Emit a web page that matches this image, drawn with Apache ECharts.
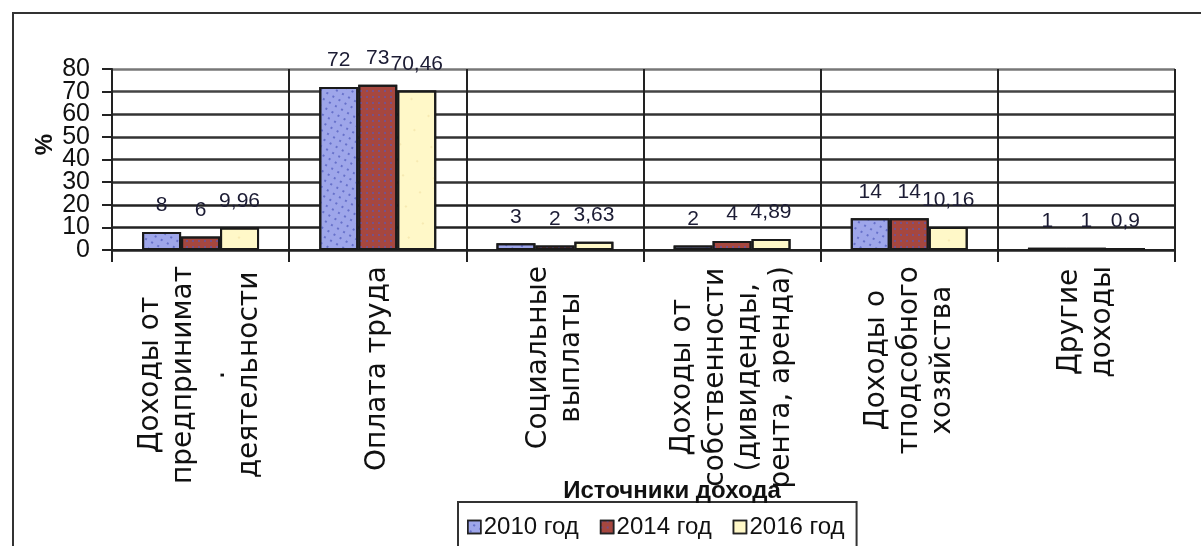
<!DOCTYPE html>
<html>
<head>
<meta charset="utf-8">
<script src="https://cdn.jsdelivr.net/npm/echarts@6/dist/echarts.min.js"></script>
<style>
  html, body { margin: 0; padding: 0; background: #fff; }
  #chart { width: 1201px; height: 546px; }
</style>
</head>
<body>
<div id="chart"></div>
<script>
// Income sources (wrapped the way the axis shows them)
const categories = [
  'Доходы от\nпредпринимат\n.\nдеятельности',
  'Оплата труда',
  'Социальные\nвыплаты',
  'Доходы от\nсобственности\n(дивиденды,\nрента, аренда)',
  'Доходы о\nтподсобного\nхозяйства',
  'Другие\nдоходы'
];
const seriesNames = ['2010 год', '2014 год', '2016 год'];
const values2010 = [8, 72, 3, 2, 14, 1];
const values2014 = [6, 73, 2, 4, 14, 1];
const values2016 = [9.96, 70.46, 3.63, 4.89, 10.16, 0.9];
const yTicks = [0, 10, 20, 30, 40, 50, 60, 70, 80];
const yMin = 0;
const yMax = 80;
const yStep = 10;

const TXT = '#111';
const LINE = '#222';
const FONT = 'Liberation Sans, Arial, sans-serif';

const chart = echarts.init(document.getElementById('chart'), null, { renderer: 'canvas' });

function valueLabel(p) {
  return String(p.value).replace('.', ',');
}

function barSeries(name, data, color, decal) {
  return {
    name: name,
    type: 'bar',
    data: data,
    barGap: '0%',
    barCategoryGap: '34%',
    itemStyle: { color: color, borderColor: '#1a1a1a', borderWidth: 2, decal: decal },
    label: {
      show: true,
      position: 'top',
      distance: 16,
      formatter: valueLabel,
      fontFamily: FONT,
      fontSize: 21,
      color: '#1c1c34'
    }
  };
}

// The y tick labels sit closer together than their glyph height, so the even
// and odd ones are carried by two overlaid axes sharing one scale.
const yLabelStyle = {
  margin: 22,
  fontFamily: FONT,
  fontSize: 25,
  color: TXT
};

chart.setOption({
  animation: false,
  aria: { enabled: true, decal: { show: true } },
  graphic: [{
    type: 'rect',
    shape: { x: 13, y: 13, width: 1400, height: 800 },
    style: { fill: 'none', stroke: '#333', lineWidth: 2 },
    silent: true
  }],
  title: {
    text: 'Источники дохода',
    left: 667,
    textAlign: 'center',
    top: 474,
    textStyle: { fontFamily: FONT, fontWeight: 'bold', fontSize: 24, color: TXT }
  },
  legend: {
    data: seriesNames,
    left: 458,
    top: 502,
    padding: [13, 12, 30, 9],
    borderColor: '#333',
    borderWidth: 2,
    itemWidth: 13,
    itemHeight: 13,
    itemGap: 21,
    icon: 'rect',
    itemStyle: { borderColor: '#222', borderWidth: 1.5 },
    textStyle: { fontFamily: FONT, fontSize: 24, color: TXT, padding: [0, 0, 0, -2] }
  },
  grid: { left: 112, right: 26, top: 69, bottom: 296, containLabel: false },
  xAxis: {
    type: 'category',
    data: categories,
    axisLine: { show: true, lineStyle: { color: LINE, width: 2 } },
    axisTick: { show: true, length: 12, lineStyle: { color: LINE, width: 2 } },
    splitLine: { show: true, lineStyle: { color: LINE, width: 2 } },
    axisLabel: {
      interval: 0,
      rotate: 90,
      margin: 16,
      formatter: function (v) {
        return v.split('\n').map(function (l) { return '{c|' + l + '}'; }).join('\n');
      },
      rich: {
        c: {
          align: 'center',
          fontFamily: 'DejaVu Sans, sans-serif',
          fontSize: 28,
          lineHeight: 33,
          color: TXT
        }
      }
    }
  },
  yAxis: [{
    type: 'value',
    min: yMin,
    max: yMax,
    interval: yStep * 2,
    name: '%',
    nameLocation: 'middle',
    nameGap: 55,
    nameMoveOverlap: false,
    nameTextStyle: {
      fontFamily: FONT, fontWeight: 'bold', fontSize: 24, color: TXT,
      padding: [0, 0, 0, 30]
    },
    axisLine: { show: true, lineStyle: { color: LINE, width: 2 } },
    axisTick: { show: true, length: 10, lineStyle: { color: LINE, width: 2 } },
    splitLine: { show: false },
    axisLabel: Object.assign({}, yLabelStyle, {
      showMinLabel: true,
      showMaxLabel: true,
      formatter: function (v) { return yTicks.indexOf(v) >= 0 ? String(v) : ''; }
    })
  }, {
    type: 'value',
    position: 'left',
    min: yMin,
    max: yMax,
    interval: yStep,
    axisLine: { show: false },
    axisTick: { show: true, length: 10, lineStyle: { color: LINE, width: 2 } },
    splitLine: {
      show: true,
      lineStyle: { color: ['#222', '#222', '#222', '#333', '#333', '#333', '#333', '#444', '#777'], width: 2.5 }
    },
    axisLabel: Object.assign({}, yLabelStyle, {
      showMinLabel: false,
      showMaxLabel: false,
      formatter: function (v) { return (v / yStep) % 2 === 1 ? String(v) : ''; }
    })
  }],
  series: [
    barSeries(seriesNames[0], values2010, '#9ea6ea', {
      symbol: 'circle', symbolSize: 0.9, color: 'rgba(50,60,170,0.75)',
      dashArrayX: [2, 5], dashArrayY: [2, 5]
    }),
    barSeries(seriesNames[1], values2014, '#a6473f', {
      symbol: 'circle', symbolSize: 0.9, color: 'rgba(80,90,200,0.8)',
      dashArrayX: [2, 4], dashArrayY: [2, 4]
    }),
    barSeries(seriesNames[2], values2016, '#fff8c8', {
      symbol: 'circle', symbolSize: 0.8, color: 'rgba(215,180,90,0.45)',
      dashArrayX: [2, 18], dashArrayY: [2, 22]
    })
  ]
});
</script>
</body>
</html>
